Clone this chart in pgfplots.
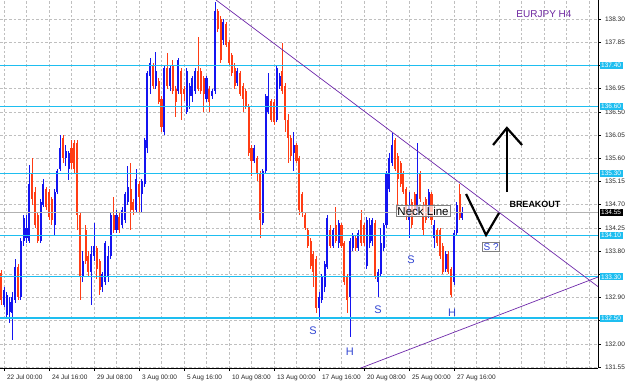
\documentclass[border=0pt]{standalone}
\usepackage{pgfplots}
\pgfplotsset{compat=1.18}
\usepackage{pgfplotstable}
\usepackage{fontspec}
\setmainfont{Liberation Sans}
\definecolor{bull}{RGB}{20,20,240}
\definecolor{bear}{RGB}{255,60,20}
\definecolor{hl}{RGB}{30,190,240}
\definecolor{tl}{RGB}{110,40,170}
\definecolor{lbl}{RGB}{50,70,210}
\definecolor{ttl}{RGB}{110,40,160}

\pgfplotstableread{
k o h l c
-1 133.37 133.43 132.75 132.85
0 132.75 133.10 132.71 133.04
1 132.55 133.00 132.50 132.95
2 132.62 132.90 132.40 132.82
3 132.60 133.00 132.07 132.90
4 132.85 133.65 132.80 133.50
5 133.50 133.55 132.85 132.90
6 132.90 134.05 132.85 134.00
7 134.00 134.50 133.90 134.45
8 134.05 134.50 133.95 134.25
9 134.00 135.47 133.95 135.10
10 135.30 135.60 134.70 134.80
11 134.95 135.05 134.25 134.30
12 134.50 134.55 133.95 134.00
13 134.00 134.80 133.95 134.75
14 134.70 135.20 134.65 135.10
15 135.00 135.05 134.60 134.65
16 134.95 135.00 134.40 134.45
17 134.80 134.85 134.30 134.40
18 134.30 135.00 134.10 134.95
19 134.95 135.40 134.90 135.35
20 135.40 136.05 135.35 135.80
21 136.00 136.05 135.50 135.60
22 135.60 135.85 135.45 135.75
23 135.40 135.75 135.18 135.70
24 135.80 135.95 135.40 135.50
25 135.90 135.95 135.30 135.40
26 135.90 135.95 134.20 134.50
27 134.50 134.55 132.85 133.30
28 133.30 133.80 133.20 133.60
29 134.20 134.30 133.55 133.60
30 133.70 133.80 133.30 133.40
31 133.40 133.90 132.75 133.75
32 133.70 134.35 133.60 133.90
33 133.85 133.90 133.25 133.45
34 133.60 133.65 132.95 133.05
35 133.10 133.40 133.00 133.35
36 133.20 134.00 133.15 133.95
37 133.30 133.90 133.20 133.70
38 133.70 134.55 133.65 134.50
39 134.50 134.85 134.15 134.20
40 134.20 134.60 134.15 134.50
41 134.45 134.55 134.15 134.20
42 134.30 134.65 134.25 134.60
43 134.40 134.95 134.35 134.90
44 134.75 135.45 134.70 135.05
45 135.00 135.50 134.20 134.60
46 134.75 134.80 134.50 134.60
47 134.60 135.40 134.55 135.20
48 135.10 135.15 134.55 134.85
49 134.90 135.20 134.55 135.15
50 135.10 136.00 135.05 135.95
51 135.80 137.30 135.70 137.25
52 137.20 137.54 136.85 137.45
53 137.40 137.45 136.95 137.00
54 137.00 137.66 136.95 137.30
55 137.10 137.15 136.65 136.70
56 136.75 136.80 136.10 136.20
57 136.10 137.40 136.05 137.35
58 137.35 137.65 136.95 137.00
59 137.00 137.40 136.90 137.35
60 137.40 137.50 136.85 136.90
61 136.95 137.00 136.40 136.70
62 136.90 137.55 136.85 137.50
63 137.30 137.35 136.35 136.85
64 136.95 137.00 136.70 136.85
65 136.50 137.35 136.45 137.30
66 136.80 137.05 136.55 137.00
67 136.80 137.20 136.70 137.15
68 136.90 137.35 136.85 137.30
69 137.30 137.95 136.90 136.95
70 137.30 137.35 136.85 136.90
71 137.15 137.20 136.50 136.85
72 136.75 137.20 136.70 137.15
73 136.95 137.00 136.50 136.70
74 136.80 136.95 136.75 136.90
75 136.90 138.62 136.85 138.45
76 138.45 138.50 138.05 138.10
77 138.30 138.35 137.45 137.50
78 137.90 138.30 137.80 138.25
79 138.20 138.25 137.75 137.80
80 137.85 137.90 137.40 137.45
81 137.60 137.65 137.20 137.25
82 137.35 137.45 136.95 137.00
83 137.05 137.35 137.00 137.30
84 137.25 137.30 136.80 136.85
85 137.00 137.05 136.50 136.75
86 136.90 136.95 136.55 136.60
87 136.60 136.65 135.65 135.70
88 135.80 135.85 135.25 135.55
89 135.55 135.85 135.50 135.80
90 135.60 135.65 135.15 135.30
91 135.30 135.35 134.05 134.40
92 134.35 135.40 134.30 135.35
93 135.35 136.85 135.30 136.80
94 136.50 137.25 136.45 136.80
95 136.70 136.75 136.30 136.35
96 136.70 136.75 136.25 136.30
97 136.35 137.40 136.30 137.35
98 137.00 137.25 136.95 137.20
99 137.30 137.83 136.85 136.90
100 137.00 137.05 136.10 136.35
101 136.35 136.45 135.50 136.00
102 136.00 136.05 135.55 135.65
103 135.70 136.10 135.35 135.85
104 135.85 135.90 135.50 135.55
105 135.60 135.65 134.50 134.60
106 134.90 134.95 134.45 134.55
107 134.50 134.55 134.20 134.25
108 134.20 134.25 133.85 133.90
109 134.00 134.05 133.45 133.50
110 133.75 133.80 133.10 133.40
111 133.65 133.70 132.60 132.70
112 132.70 133.00 132.46 132.90
113 132.85 133.35 132.80 133.30
114 133.10 133.60 133.00 133.55
115 133.50 134.50 133.45 134.45
116 134.20 134.30 133.85 133.90
117 133.90 134.25 133.85 134.20
118 134.30 134.65 133.95 134.00
119 133.95 134.40 133.85 134.35
120 134.30 134.35 133.85 133.90
121 133.95 134.00 133.15 133.20
122 133.30 133.35 132.60 132.85
123 132.90 134.05 132.13 134.00
124 133.85 134.15 133.80 134.10
125 134.05 134.10 133.80 133.85
126 133.85 134.20 133.80 134.15
127 134.40 134.60 133.90 133.95
128 134.30 134.35 133.90 133.95
129 133.50 134.46 133.45 134.40
130 133.95 134.45 133.85 134.30
131 134.00 134.45 133.90 134.40
132 134.35 134.40 133.25 133.30
133 133.20 133.45 132.90 133.40
134 133.35 134.25 133.30 133.95
135 133.85 134.35 133.80 134.30
136 134.30 135.35 134.25 135.30
137 135.00 135.70 134.95 135.60
138 135.50 136.09 135.45 135.85
139 135.95 136.00 135.35 135.40
140 135.65 135.70 134.60 135.20
141 135.50 135.55 135.05 135.10
142 135.30 135.35 134.90 134.95
143 135.00 135.05 134.40 134.50
144 134.40 134.95 134.05 134.70
145 134.75 134.80 134.25 134.30
146 134.90 134.95 134.50 134.60
147 134.60 135.89 134.50 134.90
148 135.30 135.35 134.75 134.80
149 134.70 134.75 134.10 134.20
150 134.80 134.85 134.35 134.40
151 134.50 135.00 134.45 134.95
152 134.90 134.95 134.30 134.40
153 134.05 134.40 133.85 134.30
154 134.20 134.25 133.90 133.95
155 134.20 134.25 133.65 133.70
156 133.90 133.95 133.35 133.40
157 133.45 133.80 133.40 133.75
158 133.75 133.80 133.35 133.40
159 133.45 133.50 132.90 132.95
160 133.20 134.20 133.15 134.15
161 134.15 134.75 134.10 134.70
162 134.90 135.10 134.40 134.45
163 134.45 134.65 134.40 134.55
}\ohlc

\begin{document}
\begin{tikzpicture}
\useasboundingbox (0,0) rectangle (625pt,384pt);
\begin{axis}[
  at={(0,16pt)}, anchor=south west,
  scale only axis, width=598pt, height=368pt,
  xmin=-1.422, xmax=211.2, ymin=131.531, ymax=138.668,
  axis x line*=bottom, axis y line*=right,
  axis line style={black, line width=0.7pt},
  clip mode=individual,
  tick align=outside, major tick length=3pt, minor tick length=0pt,
  tick style={black, line width=0.5pt},
  xtick={0,16,...,160},
  xticklabels={22 Jul 00:00,24 Jul 16:00,29 Jul 08:00,3 Aug 00:00,5 Aug 16:00,10 Aug 08:00,13 Aug 00:00,17 Aug 16:00,20 Aug 08:00,25 Aug 00:00,27 Aug 16:00},
  minor xtick={8,24,40,56,72,88,104,120,136,152,168,176,184,192,200,208},
  ytick={131.55,132.00,132.45,132.90,133.35,133.80,134.25,134.70,135.15,135.60,136.05,136.50,136.95,137.40,137.85,138.30},
  yticklabels={131.55,132.00,,132.90,,133.80,134.25,134.70,135.15,135.60,136.05,136.50,136.95,,137.85,138.30},
  yticklabel style={font=\fontsize{6.5}{7}\selectfont, text=black!85, xshift=0.5pt},
  xticklabel style={anchor=north west, xshift=-0.5pt, font=\fontsize{6.5}{7}\selectfont, text=black!85},
  grid=both,
  major grid style={gray!50, dash pattern=on 2.5pt off 2pt, line width=0.5pt},
  minor grid style={gray!50, dash pattern=on 2.5pt off 2pt, line width=0.5pt},
]
% wicks
\addplot[draw=none, mark=none, forget plot, restrict expr to domain={\thisrow{c}-\thisrow{o}}{0:100},
  error bars/.cd, y dir=both, y explicit, error mark=none, error bar style={draw=bull, line width=0.8pt}]
  table[x=k, y expr={(\thisrow{h}+\thisrow{l})/2}, y error expr={(\thisrow{h}-\thisrow{l})/2}] {\ohlc};
\addplot[draw=none, mark=none, forget plot, restrict expr to domain={\thisrow{c}-\thisrow{o}}{-100:0},
  error bars/.cd, y dir=both, y explicit, error mark=none, error bar style={draw=bear, line width=0.8pt}]
  table[x=k, y expr={(\thisrow{h}+\thisrow{l})/2}, y error expr={(\thisrow{h}-\thisrow{l})/2}] {\ohlc};
% bodies
\addplot[draw=none, mark=none, forget plot, restrict expr to domain={\thisrow{c}-\thisrow{o}}{0:100},
  error bars/.cd, y dir=both, y explicit, error mark=none, error bar style={draw=bull, line width=2.1pt}]
  table[x=k, y expr={(\thisrow{o}+\thisrow{c})/2}, y error expr={abs(\thisrow{c}-\thisrow{o})/2}] {\ohlc};
\addplot[draw=none, mark=none, forget plot, restrict expr to domain={\thisrow{c}-\thisrow{o}}{-100:0},
  error bars/.cd, y dir=both, y explicit, error mark=none, error bar style={draw=bear, line width=2.1pt}]
  table[x=k, y expr={(\thisrow{o}+\thisrow{c})/2}, y error expr={abs(\thisrow{c}-\thisrow{o})/2}] {\ohlc};
% bid line
\addplot[gray!60, line width=0.6pt, forget plot] coordinates {(-1.422,134.55) (211.2,134.55)};
% horizontal levels
\addplot[hl, line width=1.4pt, forget plot] coordinates {(-1.422,137.40) (211.2,137.40)};
\addplot[hl, line width=1.4pt, forget plot] coordinates {(-1.422,136.60) (211.2,136.60)};
\addplot[hl, line width=1.4pt, forget plot] coordinates {(-1.422,135.30) (211.2,135.30)};
\addplot[hl, line width=1.4pt, forget plot] coordinates {(-1.422,134.10) (211.2,134.10)};
\addplot[hl, line width=1.4pt, forget plot] coordinates {(-1.422,133.30) (211.2,133.30)};
\addplot[hl, line width=1.4pt, forget plot] coordinates {(-1.422,132.50) (211.2,132.50)};
% trend lines
\addplot[tl, line width=0.7pt, forget plot] coordinates {(75.4,138.668) (211.2,133.11)};
\addplot[tl, line width=0.7pt, forget plot] coordinates {(126.9,131.531) (211.2,133.295)};
% annotations
\node[text=ttl, font=\fontsize{10}{12}\selectfont] at (axis cs:192,138.40) {EURJPY H4};
\node[font=\bfseries\fontsize{9}{11}\selectfont] at (axis cs:188.8,134.71) {BREAKOUT};
\draw[black, line width=2.2pt] (axis cs:178.8,134.94) -- (axis cs:178.8,136.17);
\draw[black, line width=2.2pt] (axis cs:173.9,135.856) -- (axis cs:178.8,136.186) -- (axis cs:184.2,135.856);
\draw[black, line width=2.2pt] (axis cs:164.3,134.905) -- (axis cs:171.4,134.11) -- (axis cs:176,134.537);
\node[draw=gray, fill=white, fill opacity=0.7, text opacity=1, inner sep=1.2pt, font=\fontsize{11.5}{13}\selectfont] at (axis cs:149,134.575) {Neck Line};
\node[draw=gray, fill=white, inner sep=1pt, text=lbl, font=\fontsize{10}{12}\selectfont] at (axis cs:173.2,133.877) {S ?};
\node[text=lbl, font=\fontsize{11}{13}\selectfont] at (axis cs:109.9,132.25) {S};
\node[text=lbl, font=\fontsize{11}{13}\selectfont] at (axis cs:123,131.84) {H};
\node[text=lbl, font=\fontsize{11}{13}\selectfont] at (axis cs:133,132.656) {S};
\node[text=lbl, font=\fontsize{11}{13}\selectfont] at (axis cs:144.7,133.625) {S};
\node[text=lbl, font=\fontsize{11}{13}\selectfont] at (axis cs:159.3,132.597) {H};
% price boxes
\node[fill=hl, text=white, anchor=west, inner xsep=1.5pt, inner ysep=1.2pt, font=\fontsize{6.5}{7}\selectfont, xshift=1.5pt] at (axis cs:211.2,137.40) {137.40};
\node[fill=hl, text=white, anchor=west, inner xsep=1.5pt, inner ysep=1.2pt, font=\fontsize{6.5}{7}\selectfont, xshift=1.5pt] at (axis cs:211.2,136.60) {136.60};
\node[fill=hl, text=white, anchor=west, inner xsep=1.5pt, inner ysep=1.2pt, font=\fontsize{6.5}{7}\selectfont, xshift=1.5pt] at (axis cs:211.2,135.30) {135.30};
\node[fill=hl, text=white, anchor=west, inner xsep=1.5pt, inner ysep=1.2pt, font=\fontsize{6.5}{7}\selectfont, xshift=1.5pt] at (axis cs:211.2,134.10) {134.10};
\node[fill=hl, text=white, anchor=west, inner xsep=1.5pt, inner ysep=1.2pt, font=\fontsize{6.5}{7}\selectfont, xshift=1.5pt] at (axis cs:211.2,133.30) {133.30};
\node[fill=hl, text=white, anchor=west, inner xsep=1.5pt, inner ysep=1.2pt, font=\fontsize{6.5}{7}\selectfont, xshift=1.5pt] at (axis cs:211.2,132.50) {132.50};
\node[fill=black, text=white, anchor=west, inner xsep=1.5pt, inner ysep=1.2pt, font=\fontsize{6.5}{7}\selectfont, xshift=1.5pt] at (axis cs:211.2,134.55) {134.55};
\end{axis}
\end{tikzpicture}
\end{document}
